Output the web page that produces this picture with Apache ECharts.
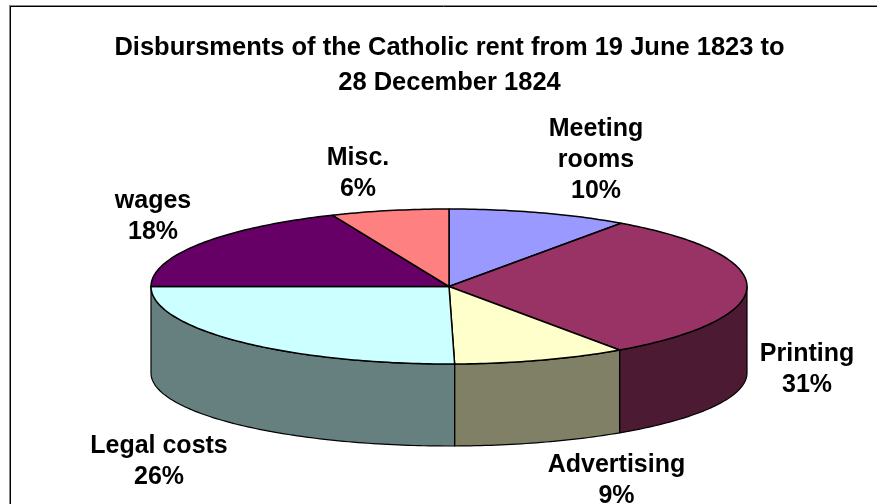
<!DOCTYPE html>
<html>
<head>
<meta charset="utf-8">
<style>html,body{margin:0;padding:0;background:#fff;overflow:hidden}#c{width:877px;height:504px}</style>
<script src="https://cdn.jsdelivr.net/npm/echarts@6/dist/echarts.min.js"></script>
</head>
<body>
<div id="c"></div>
<script>
const categories = ['Meeting rooms', 'Printing', 'Advertising', 'Legal costs', 'wages', 'Misc.'];
const shares = [9.8, 30.5, 9.4, 25.3, 18.6, 6.4];
// Percentages as printed on the labels
const printedPercents = ['10%', '31%', '9%', '26%', '18%', '6%'];
const topColors = ['#9999FF', '#993366', '#FFFFCC', '#CCFFFF', '#660066', '#FF8080'];
const wallColors = ['#4D4D80', '#4D1A33', '#808066', '#668080', '#330033', '#804040'];
const labelLines = [['Meeting', 'rooms'], ['Printing'], ['Advertising'], ['Legal costs'], ['wages'], ['Misc.']];
const labelCentres = [[596, 160], [807, 370], [616.5, 481], [159, 462], [153, 217], [358, 174]];

const TOP = { cx: 449, cy: 286.5, rx: 298, ry: 77.5 };
const BASE = { cx: 449, cy: 373, rx: 298, ry: 73 };
const total = shares.reduce((a, b) => a + b, 0);
let running = 0;
const spans = shares.map(v => { const s = running; running += v; return [s / total * 360, running / total * 360]; });

function pt(e, deg) {
  const t = deg * Math.PI / 180;
  return [e.cx + e.rx * Math.sin(t), e.cy - e.ry * Math.cos(t)];
}
function arc(e, a0, a1) {
  const n = Math.max(2, Math.ceil(Math.abs(a1 - a0)));
  const out = [];
  for (let i = 0; i <= n; i++) out.push(pt(e, a0 + (a1 - a0) * i / n));
  return out;
}
const frameLine = (x1, y1, x2, y2, stroke) => ({ type: 'line', silent: true,
  shape: { x1, y1, x2, y2 }, style: { stroke, lineWidth: 1 } });

const chart = echarts.init(document.getElementById('c'), null, { renderer: 'canvas' });
chart.setOption({
  animation: false,
  backgroundColor: '#fff',
  title: {
    text: 'Disbursments of the Catholic rent from 19 June 1823 to\n28 December 1824',
    left: 444.5, textAlign: 'center', top: 25,
    textStyle: { fontFamily: 'Liberation Sans', fontWeight: 'bold', fontSize: 25.5, lineHeight: 35, color: '#000' }
  },
  graphic: [
    frameLine(9.5, 5, 9.5, 504, '#888'), frameLine(9, 5.5, 877, 5.5, '#888'),
    frameLine(10.5, 6, 10.5, 504, '#000'), frameLine(10, 6.5, 877, 6.5, '#000')
  ],
  series: [
    {
      type: 'custom', coordinateSystem: 'none', silent: true, z: 2,
      data: shares.map((v, i) => ({ name: categories[i], value: [i, v] })),
      renderItem(params, api) {
        const i = api.value(0);
        const [a0, a1] = spans[i];
        const s = Math.max(a0, 90), e = Math.min(a1, 270);
        if (e <= s) return { type: 'group', children: [] };
        const pts = arc(TOP, s, e).concat(arc(BASE, e, s));
        return { type: 'polygon', shape: { points: pts },
          style: { fill: wallColors[i], stroke: '#000', lineWidth: 1.2, lineJoin: 'round' } };
      }
    },
    {
      type: 'custom', coordinateSystem: 'none', silent: true, z: 3,
      data: shares.map((v, i) => ({ name: categories[i], value: [i, v] })),
      renderItem(params, api) {
        const i = api.value(0);
        const [a0, a1] = spans[i];
        const pts = [[TOP.cx, TOP.cy]].concat(arc(TOP, a0, a1));
        return { type: 'polygon', shape: { points: pts },
          style: { fill: topColors[i], stroke: '#000', lineWidth: 1.5, lineJoin: 'round' } };
      }
    },
    {
      type: 'custom', coordinateSystem: 'none', silent: true, z: 4,
      data: shares.map((v, i) => ({ name: categories[i], value: [i, v] })),
      renderItem(params, api) {
        const i = api.value(0);
        return { type: 'text', x: labelCentres[i][0], y: labelCentres[i][1],
          style: { text: labelLines[i].concat(printedPercents[i]).join('\n'),
            fontFamily: 'Liberation Sans', fontWeight: 'bold', fontSize: 25, lineHeight: 31,
            fill: '#000', align: 'center', verticalAlign: 'middle' } };
      }
    }
  ]
});
</script>
</body>
</html>
